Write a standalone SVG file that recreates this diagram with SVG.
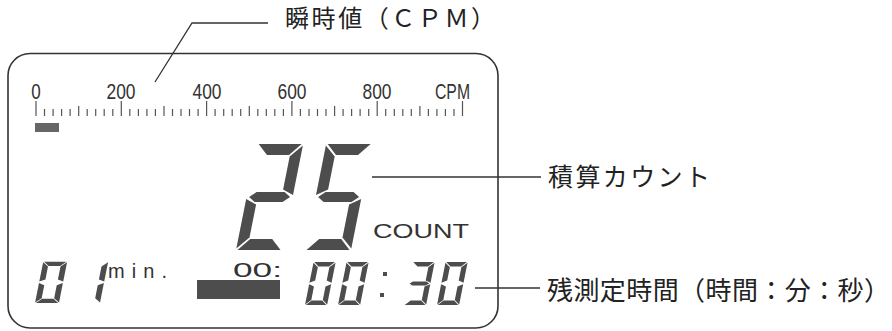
<svg xmlns="http://www.w3.org/2000/svg" xmlns:xlink="http://www.w3.org/1999/xlink" width="892" height="331" viewBox="0 0 892 331">
<style>
.frame{fill:none;stroke:#333;stroke-width:1.6}
.tick{fill:none;stroke:#555;stroke-width:1.2}
.lead{fill:none;stroke:#333;stroke-width:1.3}
.seg{fill:#4d4d4d}
.num{font-family:"Liberation Sans",Arial,sans-serif;font-size:22px;fill:#333}
.lcd{font-family:"Liberation Sans",Arial,sans-serif;fill:#333}
.jp{font-family:"Liberation Sans","Noto Sans CJK JP",sans-serif;fill:#222}
</style>
<defs>
<polygon id="sa" points="1.5,-106 44.5,-106 34,-95 12,-95"/>
<polygon id="sb" points="46,-104.5 46,-55 35,-60.5 35,-93.5"/>
<polygon id="sc" points="46,-51 46,-1.5 35,-12.5 35,-45.5"/>
<polygon id="sd" points="1.5,0 44.5,0 34,-11 12,-11"/>
<polygon id="se" points="0,-51 11,-45.5 11,-12.5 0,-1.5"/>
<polygon id="sf" points="0,-104.5 11,-93.5 11,-60.5 0,-55"/>
<polygon id="sg" points="2.5,-53 9,-58 37,-58 43.5,-53 37,-48 9,-48"/>
</defs>

<g id="lcd-frame">
<rect class="frame" x="8" y="53.5" width="490" height="274.5" rx="22" ry="22"/>
</g>

<g id="cpm-scale">
<text class="num" x="36" y="99" text-anchor="middle" textLength="9.5" lengthAdjust="spacingAndGlyphs">0</text>
<text class="num" x="121" y="99" text-anchor="middle" textLength="29" lengthAdjust="spacingAndGlyphs">200</text>
<text class="num" x="207" y="99" text-anchor="middle" textLength="29" lengthAdjust="spacingAndGlyphs">400</text>
<text class="num" x="292" y="99" text-anchor="middle" textLength="29" lengthAdjust="spacingAndGlyphs">600</text>
<text class="num" x="377" y="99" text-anchor="middle" textLength="29" lengthAdjust="spacingAndGlyphs">800</text>
<text class="num" x="452.5" y="99" text-anchor="middle" textLength="35" lengthAdjust="spacingAndGlyphs">CPM</text>
<path class="tick" d="M36 101V116M121.3 101V116M206.6 101V116M291.9 101V116M377.2 101V116M462.5 101V116
M78.7 106V116M164 106V116M249.3 106V116M334.6 106V116M419.9 106V116
M44.5 109V116M53.1 109V116M61.6 109V116M70.1 109V116M87.2 109V116M95.7 109V116M104.2 109V116M112.8 109V116
M129.8 109V116M138.4 109V116M146.9 109V116M155.4 109V116M172.5 109V116M181 109V116M189.5 109V116M198.1 109V116
M215.1 109V116M223.7 109V116M232.2 109V116M240.7 109V116M257.8 109V116M266.3 109V116M274.8 109V116M283.4 109V116
M300.4 109V116M309 109V116M317.5 109V116M326 109V116M343.1 109V116M351.6 109V116M360.1 109V116M368.7 109V116
M385.7 109V116M394.3 109V116M402.8 109V116M411.3 109V116M428.4 109V116M436.9 109V116M445.4 109V116M454 109V116"/>
<rect x="35" y="123" width="24" height="9" fill="#666"/>
</g>

<g id="count-digits" class="seg">
<g transform="translate(236,250) skewX(-11.3)">
<use xlink:href="#sa"/><use xlink:href="#sb"/><use xlink:href="#sg"/><use xlink:href="#se"/><use xlink:href="#sd"/>
</g>
<g transform="translate(305,250) skewX(-11.3)">
<use xlink:href="#sa"/><use xlink:href="#sf"/><use xlink:href="#sg"/><use xlink:href="#sc"/><use xlink:href="#sd"/>
</g>
</g>
<text class="lcd" x="373" y="238" font-size="20" textLength="96" lengthAdjust="spacingAndGlyphs">COUNT</text>

<g id="minutes" class="seg">
<g transform="translate(35,303) skewX(-11.3) scale(0.52,0.39)">
<use xlink:href="#sa"/><use xlink:href="#sb"/><use xlink:href="#sc"/><use xlink:href="#sd"/><use xlink:href="#se"/><use xlink:href="#sf"/>
</g>
<g transform="translate(76,303) skewX(-11.3) scale(0.52,0.39)">
<use xlink:href="#sb"/><use xlink:href="#sc"/>
</g>
</g>
<text class="lcd" x="108" y="278" font-size="20" textLength="59" lengthAdjust="spacing">min.</text>

<text class="lcd" x="233" y="277" font-size="21" textLength="49" lengthAdjust="spacingAndGlyphs">00:</text>
<rect x="197" y="280" width="83" height="19" fill="#4d4d4d"/>

<g id="time-digits" class="seg">
<g transform="translate(305,305) skewX(-11.3) scale(0.48,0.405)">
<use xlink:href="#sa"/><use xlink:href="#sb"/><use xlink:href="#sc"/><use xlink:href="#sd"/><use xlink:href="#se"/><use xlink:href="#sf"/>
</g>
<g transform="translate(338,305) skewX(-11.3) scale(0.48,0.405)">
<use xlink:href="#sa"/><use xlink:href="#sb"/><use xlink:href="#sc"/><use xlink:href="#sd"/><use xlink:href="#se"/><use xlink:href="#sf"/>
</g>
<rect x="383" y="272" width="4" height="4"/>
<rect x="380" y="293" width="4" height="4"/>
<g transform="translate(404,305) skewX(-11.3) scale(0.48,0.405)">
<use xlink:href="#sa"/><use xlink:href="#sb"/><use xlink:href="#sg"/><use xlink:href="#sc"/><use xlink:href="#sd"/>
</g>
<g transform="translate(437,305) skewX(-11.3) scale(0.48,0.405)">
<use xlink:href="#sa"/><use xlink:href="#sb"/><use xlink:href="#sc"/><use xlink:href="#sd"/><use xlink:href="#se"/><use xlink:href="#sf"/>
</g>
</g>

<g id="connectors">
<polyline class="lead" points="155,82 192,23 268,23"/>
<line class="lead" x1="372" y1="177" x2="541" y2="177"/>
<line class="lead" x1="475" y1="288" x2="540" y2="288"/>
</g>

<g id="label-cpm">
<text class="jp" x="285" y="27" font-size="24" textLength="210">瞬時値（ＣＰＭ）</text>
</g>
<g id="label-count">
<text class="jp" x="548" y="186" font-size="25" textLength="162">積算カウント</text>
</g>
<g id="label-time">
<text class="jp" x="547" y="300" font-size="26" textLength="343">残測定時間（時間：分：秒）</text>
</g>
</svg>
